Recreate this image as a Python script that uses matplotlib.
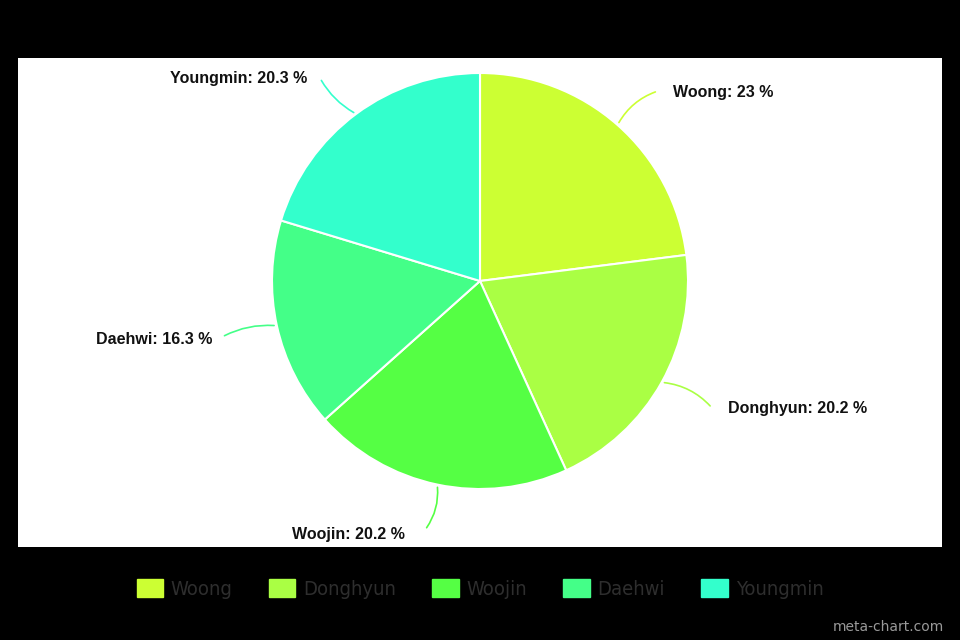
import numpy as np
import matplotlib.pyplot as plt
from matplotlib.patches import Patch
from matplotlib.font_manager import FontProperties

names = ['Woong', 'Donghyun', 'Woojin', 'Daehwi', 'Youngmin']
shares = [23, 20.2, 20.2, 16.3, 20.3]
colors = ['#ccff33', '#aaff44', '#55ff44', '#44ff88', '#33ffcc']
label_text = ['Woong: 23 %', 'Donghyun: 20.2 %', 'Woojin: 20.2 %', 'Daehwi: 16.3 %', 'Youngmin: 20.3 %']

fig = plt.figure(figsize=(9.6, 6.4), dpi=100, facecolor='black')
# white panel, coordinates in pixels (y up)
ax = fig.add_axes([18/960, 93/640, 924/960, 489/640])
ax.set_facecolor('white')
ax.set_xticks([])
ax.set_yticks([])
for s in ax.spines.values():
    s.set_visible(False)

cx, cy, r = 480, 359, 208
wedges, _ = ax.pie(shares, colors=colors, startangle=90, counterclock=False,
                   center=(cx, cy), radius=r, frame=True,
                   wedgeprops=dict(edgecolor='white', linewidth=1.5))
ax.set_xlim(18, 942)
ax.set_ylim(93, 582)
ax.set_aspect('equal')

# label end points and text anchors (pixels)
ends = [(658, 549), (712, 232), (425, 110), (222, 303), (320, 562)]
text_pos = [(673, 548, 'left'), (728, 231, 'left'), (348, 105, 'center'), (212, 301, 'right'), (307, 562, 'right')]
curv = [0.2, 0.2, 0.2, -0.15, 0.15]
for w, c, e, k in zip(wedges, colors, ends, curv):
    ang = np.deg2rad((w.theta1 + w.theta2) / 2)
    p = (cx + r * np.cos(ang), cy + r * np.sin(ang))
    ax.annotate('', xy=p, xytext=e,
                arrowprops=dict(arrowstyle='-', color=c, lw=1.2,
                                connectionstyle=f'arc3,rad={k}'))
for t, tp in zip(label_text, text_pos):
    ax.text(tp[0], tp[1], t, ha=tp[2], va='center', fontsize=11.5,
            fontweight='bold', family='Liberation Sans', color='#111111')

handles = [Patch(facecolor=c, edgecolor=c) for c in colors]
leg_font = FontProperties(family='DejaVu Sans', stretch='condensed', size=14.5)
fig.legend(handles, names, loc='center', bbox_to_anchor=(0.5, 1 - 589/640), ncol=5,
           frameon=False, prop=leg_font, labelcolor='#2e2e2e',
           handlelength=1.3, handleheight=1.0, handletextpad=0.4, columnspacing=1.8)

fig.text(944/960, 1 - 627/640, 'meta-chart.com', ha='right', va='center',
         fontsize=10, color='#999999')

fig.savefig('out.png', dpi=100, facecolor='black')
